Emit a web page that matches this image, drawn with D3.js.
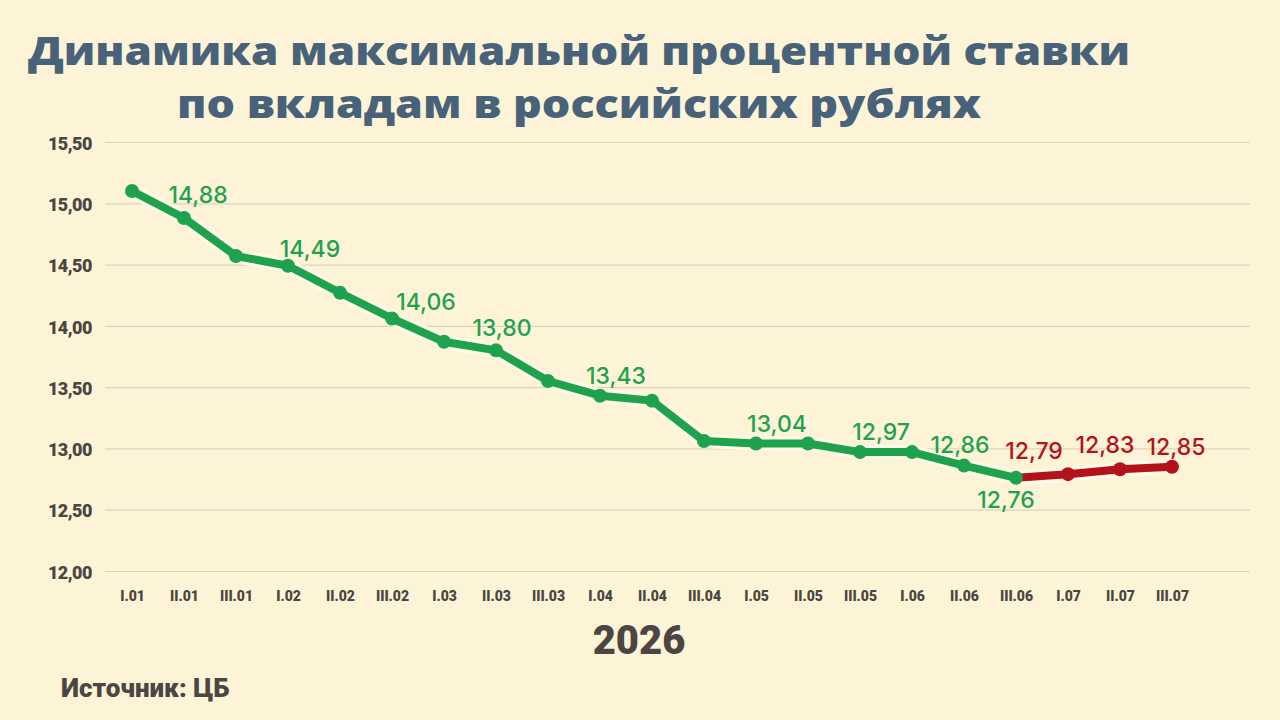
<!DOCTYPE html>
<html>
<head>
<meta charset="utf-8">
<script src="https://cdn.jsdelivr.net/npm/d3@7"></script>
<style>
  html, body { margin: 0; padding: 0; background: #fdf4d8; }
  svg { display: block; }
</style>
</head>
<body>
<svg id="chart" width="1280" height="720"></svg>
<script>
// periods of 2026 (decade.month)
const categories = [
  'I.01', 'II.01', 'III.01', 'I.02', 'II.02', 'III.02', 'I.03', 'II.03', 'III.03',
  'I.04', 'II.04', 'III.04', 'I.05', 'II.05', 'III.05', 'I.06', 'II.06', 'III.06',
  'I.07', 'II.07', 'III.07'
];
// max deposit rate, %
const rates = [
  15.10, 14.88, 14.57, 14.49, 14.27, 14.06, 13.87, 13.80, 13.55,
  13.43, 13.39, 13.06, 13.04, 13.04, 12.97, 12.97, 12.86, 12.76,
  12.79, 12.83, 12.85
];
const lastGreen = 17; // red segment starts after III.06
const labeledIdx = [1, 3, 5, 7, 9, 12, 14, 16, 17, 18, 19, 20];
const yTicks = [12, 12.5, 13, 13.5, 14, 14.5, 15, 15.5];

const titleLines = ['Динамика максимальной процентной ставки', 'по вкладам в российских рублях'];
const yearLabel = '2026';
const sourceLabel = 'Источник: ЦБ';

// label offsets from their point (layout only)
const labelNudge = {
  1: [14, -15], 3: [22, -9], 5: [34, -9], 7: [6, -14], 9: [16, -12],
  12: [21, -12], 14: [21, -12], 16: [-4, -13], 17: [-10, 30],
  18: [-34, -15], 19: [-15, -16], 20: [4, -12]
};

const green = '#1fa24e';
const red = '#b3121a';
const ink = '#4b4641';

const ru = d3.formatLocale({ decimal: ',', thousands: ' ', grouping: [3], currency: ['', ''] });
const fmt = ru.format('.2f');

const svg = d3.select('#chart');

const x = d3.scalePoint().domain(categories).range([132, 1172]);
const y = d3.scaleLinear().domain([12, 15.5]).range([571, 142]);

// title
svg.selectAll('text.title')
  .data(titleLines)
  .enter()
  .append('text')
  .attr('class', 'title')
  .attr('x', 579)
  .attr('y', (d, i) => 65 + i * 53)
  .attr('text-anchor', 'middle')
  .attr('textLength', (d, i) => i === 0 ? 1102 : 804)
  .attr('lengthAdjust', 'spacingAndGlyphs')
  .style('font-family', '"Open Sans", sans-serif')
  .style('font-weight', 800)
  .style('font-size', '38px')
  .style('fill', '#48627a')
  .text(d => d);

// grid + y axis
const yAxis = d3.axisLeft(y)
  .tickValues(yTicks)
  .tickFormat(fmt)
  .tickSize(-(1250 - 105))
  .tickPadding(13);

const gy = svg.append('g')
  .attr('transform', 'translate(105,0)')
  .call(yAxis);
gy.select('.domain').remove();
gy.selectAll('.tick line')
  .attr('stroke', '#ddd4ba')
  .attr('stroke-width', 1.2);
gy.selectAll('.tick text')
  .attr('dy', '0.4em')
  .style('font-family', 'Roboto, sans-serif')
  .style('font-weight', 900)
  .style('font-size', '18px')
  .style('letter-spacing', '-0.5px')
  .style('fill', ink);

// x axis
const gx = svg.append('g')
  .attr('transform', 'translate(0,585)')
  .call(d3.axisBottom(x).tickSize(0).tickPadding(6));
gx.select('.domain').remove();
gx.selectAll('.tick text')
  .style('font-family', 'Roboto, sans-serif')
  .style('font-weight', 900)
  .style('font-size', '14px')
  .style('fill', ink);

// lines
const line = d3.line()
  .x(d => x(d.cat))
  .y(d => y(d.v));

const pts = categories.map((c, i) => ({ cat: c, v: rates[i], i }));
const greenPts = pts.slice(0, lastGreen + 1);
const redPts = pts.slice(lastGreen);

// soft halo under the line
svg.append('path')
  .datum(pts)
  .attr('d', line)
  .attr('fill', 'none')
  .attr('stroke', '#fffbe8')
  .attr('stroke-width', 14)
  .attr('stroke-linejoin', 'round')
  .attr('stroke-linecap', 'round');

svg.append('path')
  .datum(greenPts)
  .attr('d', line)
  .attr('fill', 'none')
  .attr('stroke', green)
  .attr('stroke-width', 8)
  .attr('stroke-linejoin', 'round');

svg.append('path')
  .datum(redPts)
  .attr('d', line)
  .attr('fill', 'none')
  .attr('stroke', red)
  .attr('stroke-width', 8)
  .attr('stroke-linejoin', 'round');

svg.selectAll('circle')
  .data(pts)
  .enter()
  .append('circle')
  .attr('cx', d => x(d.cat))
  .attr('cy', d => y(d.v))
  .attr('r', 7)
  .attr('fill', d => d.i > lastGreen ? red : green);

// value labels
svg.selectAll('text.val')
  .data(labeledIdx.map(i => pts[i]))
  .enter()
  .append('text')
  .attr('class', 'val')
  .attr('x', d => x(d.cat) + labelNudge[d.i][0])
  .attr('y', d => y(d.v) + labelNudge[d.i][1])
  .attr('text-anchor', 'middle')
  .style('font-family', 'Inter, sans-serif')
  .style('font-weight', 500)
  .style('font-size', '23px')
  .style('fill', d => d.i > lastGreen ? red : green)
  .text(d => fmt(d.v));

// year and source
svg.append('text')
  .attr('x', 639)
  .attr('y', 654)
  .attr('text-anchor', 'middle')
  .style('font-family', 'Roboto, sans-serif')
  .style('font-weight', 900)
  .style('font-size', '40px')
  .style('fill', ink)
  .text(yearLabel);

svg.append('text')
  .attr('x', 61)
  .attr('y', 697)
  .style('font-family', 'Roboto, sans-serif')
  .style('font-weight', 900)
  .style('font-size', '26px')
  .style('fill', ink)
  .text(sourceLabel);
</script>
</body>
</html>
